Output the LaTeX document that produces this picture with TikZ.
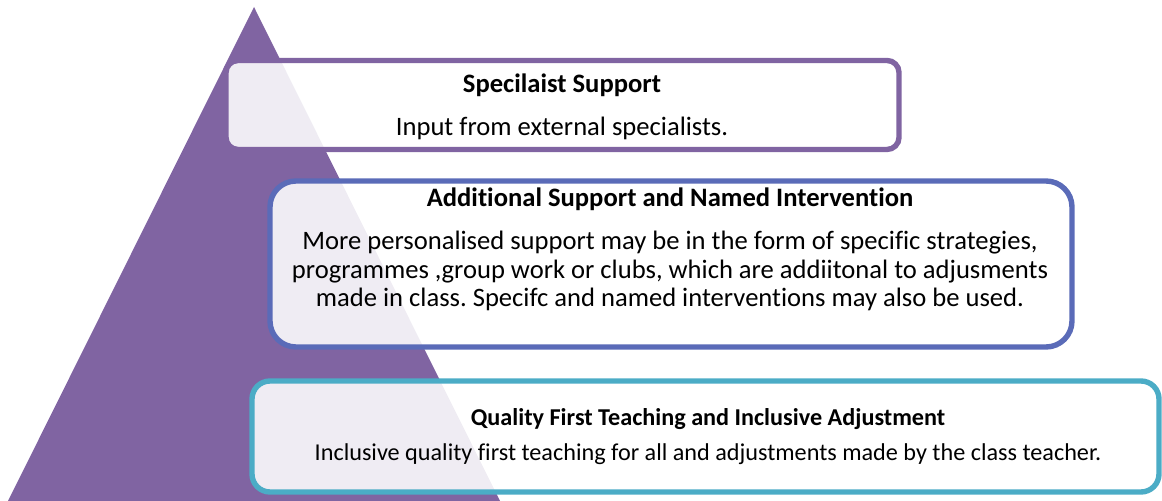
\documentclass[tikz,border=0pt]{standalone}
\usepackage{fontspec}
\setmainfont{Carlito}[Ligatures=NoCommon]
\definecolor{tierpurple}{HTML}{8064A2}
\definecolor{tierblue}{HTML}{5A6BB8}
\definecolor{tieraqua}{HTML}{4BACC6}
\frenchspacing
\begin{document}
\begin{tikzpicture}[x=0.5pt,y=-0.5pt,
    tier/.style={draw=#1, line width=2.7pt, fill=white, fill opacity=0.88},
    head/.style={inner sep=0pt, font=\bfseries\fontsize{13.3}{15}\selectfont},
    body/.style={inner sep=0pt, align=center, font=\fontsize{13.3}{14.25}\selectfont}]
    \useasboundingbox (0,0) rectangle (1162,501);
    % pyramid behind the tiers
    \fill [tierpurple] (254,7) -- (8,501) -- (500,501) -- cycle;
    % top tier
    \draw [tier=tierpurple, rounded corners=6pt] (226,60.5) rectangle (899,149.5);
    \node [head, anchor=base] (spechead) at (562,93) {Specilaist Support};
    \node [body, anchor=base] (specbody) at (562,136) {Input from external specialists.};
    % middle tier
    \draw [tier=tierblue, rounded corners=13pt] (270,181) rectangle (1072,347);
    \node [head, anchor=base] (addhead) at (670,207) {Additional Support and Named Intervention};
    \node [body, anchor=north] (addbody) at (670,231) {More personalised support may be in the form of specific strategies,\\
        programmes ,group work or clubs, which are addiitonal to adjusments\\
        made in class. Specifc and named interventions may also be used.};
    % bottom tier
    \draw [tier=tieraqua, rounded corners=9pt] (252,381) rectangle (1159,492);
    \node [head, anchor=base, font=\bfseries\fontsize{12.1}{14}\selectfont] (qfthead) at (708,426) {Quality First Teaching and Inclusive Adjustment};
    \node [body, anchor=base, font=\fontsize{12.1}{14}\selectfont] (qftbody) at (708,461) {Inclusive quality first teaching for all and adjustments made by the class teacher.};
\end{tikzpicture}
\end{document}
